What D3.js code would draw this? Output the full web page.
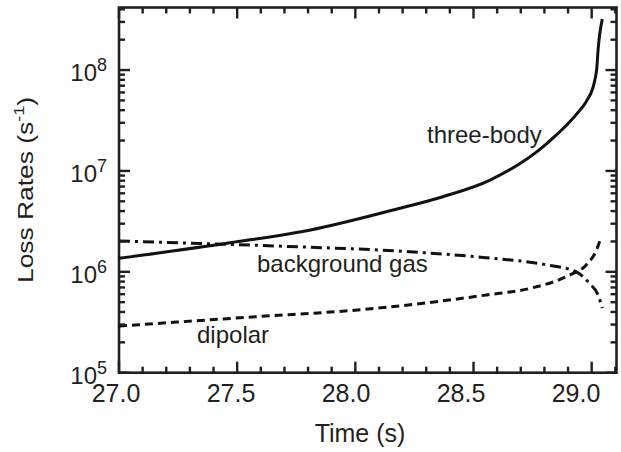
<!DOCTYPE html>
<html>
<head>
<meta charset="utf-8">
<script src="https://cdn.jsdelivr.net/npm/d3@7"></script>
<style>
  body { margin: 0; background: #fff; }
  svg { display: block; }
  text { font-family: "Liberation Sans", Arial, Helvetica, sans-serif; fill: #231f20; }
</style>
</head>
<body>
<div id="chart"></div>
<script>
// values
var threeBodyTime = [27.0, 27.47, 27.81, 28.16, 28.37, 28.57, 28.81, 28.95, 28.98, 29.013, 29.022, 29.027, 29.045];
var threeBodyRate = [1.36e6, 1.94e6, 2.6e6, 4.1e6, 5.55e6, 8.1e6, 1.87e7, 4.0e7, 5.0e7, 7.9e7, 1.07e8, 1.58e8, 3.2e8];

var bgGasTime = [27.0, 27.67, 28.23, 28.54, 28.81, 28.935, 28.99, 29.027, 29.045];
var bgGasRate = [2.02e6, 1.8e6, 1.58e6, 1.39e6, 1.17e6, 1.0e6, 7.7e5, 5.9e5, 4.36e5];

var dipolarTime = [27.0, 27.54, 28.09, 28.555, 28.74, 28.907, 28.977, 29.02, 29.04];
var dipolarRate = [2.9e5, 3.54e5, 4.35e5, 5.9e5, 6.86e5, 9.3e5, 1.17e6, 1.64e6, 2.2e6];

var xTickLabels = [27.0, 27.5, 28.0, 28.5, 29.0];
var yDecades = [5, 6, 7, 8];

var W = 621, H = 452;
// plot box (note: "top" is taken by window.top)
var pl = 119, pr = 616.5, pt = 7.5, pb = 372.7;
var ink = "#231f20";

var svg = d3.select("#chart").append("svg")
    .attr("width", W)
    .attr("height", H);

var x = d3.scaleLinear().domain([27, 29.105]).range([pl, pr]);
var y = d3.scaleLog().domain([1e5, Math.pow(10, 8.62)]).range([pb, pt]);
// tick labels in the original sit a little left of their ticks
var xLab = d3.scaleLinear().domain([27, 29]).range([116, 576]);

// frame
svg.append("rect")
    .attr("x", pl).attr("y", pt)
    .attr("width", pr - pl).attr("height", pb - pt)
    .attr("fill", "none").attr("stroke", ink).attr("stroke-width", 2.6);

// ---- tick labels
svg.selectAll(".xl").data(xTickLabels).enter().append("text")
    .attr("class", "xl")
    .attr("x", function(d) { return xLab(d); })
    .attr("y", 401.5)
    .attr("text-anchor", "middle")
    .attr("font-size", 25)
    .text(function(d) { return d.toFixed(1); });

var yl = svg.selectAll(".yl").data(yDecades).enter().append("text")
    .attr("class", "yl")
    .attr("x", 107)
    .attr("y", function(d) { return y(Math.pow(10, d)) + 11; })
    .attr("text-anchor", "end")
    .attr("font-size", 24);
yl.append("tspan").text("10");
yl.append("tspan").attr("font-size", 18).attr("dy", -10).text(function(d) { return d; });

// ---- axis titles
svg.append("text")
    .attr("x", 360).attr("y", 441.5)
    .attr("text-anchor", "middle")
    .attr("font-size", 25)
    .text("Time (s)");

var yt = svg.append("text")
    .attr("transform", "translate(33,190) rotate(-90) scale(1.2,1)")
    .attr("text-anchor", "middle")
    .attr("font-size", 22);
yt.append("tspan").text("Loss Rates (s");
yt.append("tspan").attr("font-size", 15).attr("dy", -9).text("-1");
yt.append("tspan").attr("dy", 9).text(")");

// ---- curves
var lineGen = d3.line()
    .x(function(d) { return x(d[0]); })
    .y(function(d) { return y(d[1]); })
    .curve(d3.curveMonotoneX);

function pairs(ts, vs) { return ts.map(function(t, i) { return [t, vs[i]]; }); }

var plot = svg.append("g");

plot.append("path")
    .datum(pairs(threeBodyTime, threeBodyRate))
    .attr("d", lineGen)
    .attr("fill", "none").attr("stroke", "#111").attr("stroke-width", 3);

plot.append("path")
    .datum(pairs(bgGasTime, bgGasRate))
    .attr("d", lineGen)
    .attr("fill", "none").attr("stroke", "#111").attr("stroke-width", 3)
    .attr("stroke-dasharray", "11,5,3,5");

plot.append("path")
    .datum(pairs(dipolarTime, dipolarRate))
    .attr("d", lineGen)
    .attr("fill", "none").attr("stroke", "#111").attr("stroke-width", 3)
    .attr("stroke-dasharray", "8,5");

// ---- curve labels
svg.append("text").attr("x", 427).attr("y", 143).attr("font-size", 24).text("three-body");
svg.append("text").attr("x", 257).attr("y", 272).attr("font-size", 24).text("background gas");
svg.append("text").attr("x", 197).attr("y", 343).attr("font-size", 24).text("dipolar");

// ---- ticks (inward, on all four sides), drawn last as small filled bars
var xTicks = d3.range(270, 292).map(function(d) {
    return { v: d / 10, len: (d % 5 === 0) ? 11 : 6 };
});

var yTicks = [];
yDecades.forEach(function(e) {
    d3.range(1, 10).forEach(function(m) {
        var v = m * Math.pow(10, e);
        if (v <= y.domain()[1]) yTicks.push({ v: v, len: m === 1 ? 11 : 6 });
    });
});

var tw = 2.4;
var ticks = svg.append("g").attr("fill", ink);

ticks.selectAll(".tb").data(xTicks).enter().append("rect")
    .attr("class", "tb")
    .attr("x", function(d) { return x(d.v) - tw / 2; })
    .attr("y", function(d) { return pb - d.len; })
    .attr("width", tw)
    .attr("height", function(d) { return d.len; });

ticks.selectAll(".tt").data(xTicks).enter().append("rect")
    .attr("class", "tt")
    .attr("x", function(d) { return x(d.v) - tw / 2; })
    .attr("y", pt)
    .attr("width", tw)
    .attr("height", function(d) { return d.len; });

ticks.selectAll(".tl").data(yTicks).enter().append("rect")
    .attr("class", "tl")
    .attr("x", pl)
    .attr("y", function(d) { return y(d.v) - tw / 2; })
    .attr("width", function(d) { return d.len; })
    .attr("height", tw);

ticks.selectAll(".tr").data(yTicks).enter().append("rect")
    .attr("class", "tr")
    .attr("x", function(d) { return pr - d.len; })
    .attr("y", function(d) { return y(d.v) - tw / 2; })
    .attr("width", function(d) { return d.len; })
    .attr("height", tw);
</script>
</body>
</html>
